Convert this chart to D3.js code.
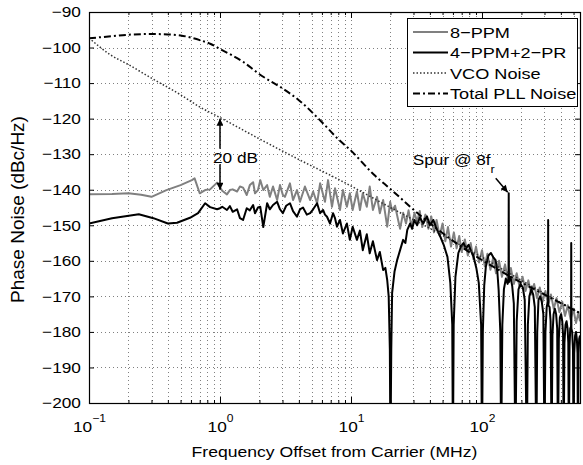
<!DOCTYPE html>
<html><head><meta charset="utf-8">
<script src="https://cdn.jsdelivr.net/npm/d3@7"></script>
<style>
body{margin:0;background:#fff;}
svg{display:block;background:#fff;}
text{font-family:"Liberation Sans",Arial,Helvetica,sans-serif;fill:#000;}
</style></head><body>
<svg id="chart" width="583" height="465"></svg>
<script>
// ---------------- data ----------------
const seriesNames = ["8\u2212PPM", "4\u2212PPM+2\u2212PR", "VCO Noise", "Total PLL Noise"];
const xMajorTicks = [0.1, 1, 10, 100];
const xTickExponents = ["\u22121", "0", "1", "2"];
const yTicks = [-200, -190, -180, -170, -160, -150, -140, -130, -120, -110, -100, -90];
const xLabel = "Frequency Offset from Carrier (MHz)";
const yLabel = "Phase Noise (dBc/Hz)";

// 8-PPM (gray)
const ppm8Freq = [0.1,0.15,0.2,0.25,0.3,0.39,0.5,0.61,0.64,0.70,0.77,0.84,0.95,1.04,1.13,1.19,1.25,1.35,1.42,1.50,1.60,1.69,1.79,1.85,1.95,2.03,2.14,2.29,2.40,2.54,2.73,2.87,3.02,3.13,3.42,3.61,3.87,4.08,4.45,4.88,5.14,5.51,5.81,6.33,6.68,7.16,7.55,8.24,8.68,9.30,9.80,10.3,11.1,11.7,12.3,13.2,13.9,14.7,15.8,16.6,17.6,18.9,19.9,20.6,21.7,22.9,
 23.7,25,26.3,27.5,29,30.5,32,33.5,35,37,39,41,43,45,47.5,50,52.5,55,58,61,64,67,70,74,78,82,86,90,95,100,105,110,116,122,128,135,142,150,158,166,175,184,194,204,215,226,238,250,263,276,290,305,320,336,353,371,390,410,430,452,475,498,522,545,560];
const ppm8Value = [-141.3,-141.2,-141.0,-141.4,-142.0,-140.1,-138.7,-137.3,-136.8,-141.0,-140.1,-139.9,-138.0,-140.3,-141.3,-140.1,-139.9,-140.5,-139.1,-139.4,-141.5,-138.7,-137.9,-141.0,-140.1,-137.3,-140.1,-138.7,-142.0,-139.1,-142.9,-138.7,-141.5,-142.0,-138.2,-142.9,-140.1,-143.4,-139.1,-142.9,-140.5,-143.8,-138.2,-143.4,-137.3,-144.8,-139.6,-145.7,-140.1,-144.8,-141.0,-145.7,-140.5,-145.7,-141.0,-144.8,-139.1,-145.7,-142.0,-146.6,-142.9,-150.4,-143.4,-146.0,-144.5,-148.5,
 -151,-146.5,-149.5,-145.8,-150.5,-146.5,-149,-146,-150.5,-147,-151,-147.5,-152,-148.5,-153,-149.5,-154.5,-150.5,-156,-152,-156.5,-153,-157.5,-154,-158.5,-155,-159.5,-156,-160.5,-157,-161.5,-158,-162.5,-159,-163.5,-160,-164.5,-161,-165.5,-162,-166.5,-163.5,-167.5,-164.5,-168.5,-165.5,-169.5,-166.5,-170.5,-167.5,-171.5,-168.5,-172.5,-169.5,-173.5,-170.5,-174.5,-171.5,-175.5,-172.5,-176.5,-173.5,-177.5,-174.5,-177];

// 4-PPM+2-PR (black)
const ppm4Freq = [0.1,0.15,0.24,0.31,0.40,0.47,0.59,0.68,0.77,0.84,0.95,1.0,1.04,1.13,1.19,1.25,1.35,1.42,1.50,1.60,1.69,1.79,1.85,1.95,2.03,2.14,2.29,2.40,2.54,2.73,2.87,3.02,3.2,3.42,3.61,3.87,4.08,4.30,4.6,4.88,5.14,5.51,5.81,6.12,6.33,6.56,6.92,7.29,7.55,7.82,8.24,8.68,9.30,9.80,10.3,11.1,11.7,12.3,13.2,13.9,14.7,15.8,16.6,17.6,18.3,18.9,19.4,19.8,20,20.3,20.6,21.5,22.5,23.7,25.0,26.0,26.9,28.3,29.3,30.5,32,33.5,35.6,38,40,42.5,45,48.2,51,54.5,57.3,59.3,60,60.8,62.7,66,69,72.2,75.5,79,83,86.4,90.5,94.5,98.5,100,101.5,104,107,112,117,122,127,131,134,138,140,
 143,147,152,157,159.5,160,160.5,165,170,175,180,184,190,197,205,212,220,224,230,238,246,253,260,264,270,278,286,294,300,305,312,318,319.5,320,320.5,328,334,340,345,352,360,368,375,380,386,393,402,410,416,420,426,434,442,450,456,460,466,472,478.5,480,481.5,488,495,500,506,514,522,530,536,540,546,552,560];
const ppm4Value = [-149.5,-148.0,-146.9,-148.0,-149.5,-149.3,-147.9,-146.6,-143.8,-144.9,-145.5,-145.2,-144.8,-145.7,-144.6,-146.2,-145.5,-148.0,-148.5,-145.2,-145.8,-144.3,-146.6,-145.0,-144.8,-150.5,-143.8,-145.5,-144.3,-143.4,-145.5,-146.6,-144.5,-143.8,-146.0,-147.6,-145.5,-145.0,-147.0,-146.6,-145.5,-143.8,-146.6,-145.7,-147.0,-147.6,-149.5,-146.6,-148.0,-150.4,-148.5,-152.3,-149.5,-154.1,-150.4,-154.1,-151.5,-157.0,-152.5,-157.9,-154.5,-159.8,-157.5,-162.6,-162,-165.4,-170,-185,-215,-185,-169.1,-163,-159.8,-157,-154.1,-155,-151.3,-149.5,-151,-148.5,-150,-147.8,-149.5,-147.5,-150,-148.5,-151,-153.3,-155.5,-158.9,-166.2,-178,-215,-178,-164.5,-157.8,-156,-155,-156.5,-155.5,-157.5,-158.9,-162,-166.2,-178,-215,-180,-167,-161.7,-158.5,-157.8,-159,-159.8,-163,-168.2,-180,-215,
 -178,-168,-165,-166.5,-165,-141,-166,-164.5,-167,-172,-215,-177,-168,-166.5,-167.5,-171,-215,-178,-170,-168,-169.5,-173,-215,-180,-171,-170,-171.5,-175,-215,-180,-173,-171.5,-172,-148.5,-172.5,-173,-177,-215,-181,-175,-173.5,-175,-179,-215,-182,-176,-175,-177,-181,-215,-183,-178,-177,-179,-183,-215,-184,-179,-178.5,-155,-179,-180,-185,-215,-186,-181,-180,-182,-186,-215,-186,-182,-181];

// VCO noise (dotted)
const vcoFreq = [0.1,0.145,0.2,0.29,0.5,0.7,1.0,2,4,8.24,20,50,100,200,560];
const vcoValue = [-97.3,-102,-104.8,-108.3,-113.3,-116.7,-119.7,-125.7,-131.5,-137.3,-145,-152.8,-159,-165.5,-174.8];

// Total PLL noise (dash-dot)
const pllFreq = [0.1,0.15,0.2,0.3,0.4,0.5,0.6,0.7,0.85,1.0,1.5,2.0,3.0,4.0,6.0,8.0,10,15,20,35,70,157,300,560];
const pllValue = [-97.4,-96.8,-96.4,-96.2,-96.3,-96.6,-97.2,-97.9,-99,-100.4,-104,-107.5,-111.5,-114.8,-121,-125.8,-129,-135.8,-139.8,-147.7,-156.1,-164,-169.5,-174.7];

// ---------------- drawing ----------------
const SX = 1.15;          // horizontal text stretch of the reference
const FS = 15;
const svg = d3.select("#chart");
const L = 89, R = 580, T = 12, B = 403;
const x = d3.scaleLog().domain([0.1, 560]).range([L, R]);
const y = d3.scaleLinear().domain([-200, -90]).range([B, T]);

svg.append("rect").attr("width", 583).attr("height", 465).attr("fill", "#fff");

const defs = svg.append("defs");
defs.append("clipPath").attr("id", "plotclip").append("rect")
  .attr("x", L).attr("y", T).attr("width", R - L).attr("height", B - T);
defs.append("marker").attr("id", "ah").attr("viewBox", "0 0 10 10")
  .attr("refX", 10).attr("refY", 5).attr("markerUnits", "userSpaceOnUse")
  .attr("markerWidth", 8).attr("markerHeight", 7).attr("orient", "auto-start-reverse")
  .append("path").attr("d", "M0,0L10,5L0,10z").attr("fill", "#000");

// grid
const xGridVals = x.ticks().filter(v => v > 0.1 && v < 560);
const grid = svg.append("g").attr("stroke", "#808080").attr("stroke-width", 1).attr("stroke-dasharray", "1,3");
grid.selectAll("line.gx").data(xGridVals).join("line")
  .attr("x1", d => Math.round(x(d)) + 0.5).attr("x2", d => Math.round(x(d)) + 0.5)
  .attr("y1", T).attr("y2", B);
grid.selectAll("line.gy").data(yTicks.filter(v => v > -200 && v < -90)).join("line")
  .attr("y1", d => Math.round(y(d)) + 0.5).attr("y2", d => Math.round(y(d)) + 0.5)
  .attr("x1", L).attr("x2", R);

// series
const plot = svg.append("g").attr("clip-path", "url(#plotclip)");
const zip = (fs, vs) => fs.map((f, i) => [f, vs[i]]);
const lineLin = d3.line().x(d => x(d[0])).y(d => y(d[1]));
const lineSmooth = d3.line().x(d => x(d[0])).y(d => y(d[1])).curve(d3.curveMonotoneX);

plot.append("path").datum(zip(ppm8Freq, ppm8Value)).attr("d", lineLin)
  .attr("fill", "none").attr("stroke", "#808080").attr("stroke-width", 2).attr("stroke-linejoin", "round");
plot.append("path").datum(zip(ppm4Freq, ppm4Value)).attr("d", lineLin)
  .attr("fill", "none").attr("stroke", "#000").attr("stroke-width", 2).attr("stroke-linejoin", "round");
plot.append("path").datum(zip(vcoFreq, vcoValue)).attr("d", lineSmooth)
  .attr("fill", "none").attr("stroke", "#333").attr("stroke-width", 1.5).attr("stroke-dasharray", "1.5,2");
plot.append("path").datum(zip(pllFreq, pllValue)).attr("d", lineSmooth)
  .attr("fill", "none").attr("stroke", "#000").attr("stroke-width", 2).attr("stroke-dasharray", "7,3,2,3");

// axes
const xMinor = x.ticks().filter(v => xMajorTicks.indexOf(v) < 0);
function clean(g) { g.select(".domain").remove(); g.selectAll(".tick line").attr("stroke", "#000"); }
svg.append("g").attr("transform", `translate(0,${B})`)
  .call(d3.axisBottom(x).tickValues(xMinor).tickSize(-3).tickFormat("")).call(clean);
svg.append("g").attr("transform", `translate(0,${T})`)
  .call(d3.axisTop(x).tickValues(xMinor).tickSize(-3).tickFormat("")).call(clean);
svg.append("g").attr("transform", `translate(0,${T})`)
  .call(d3.axisTop(x).tickValues(xMajorTicks).tickSize(-6).tickFormat("")).call(clean);
svg.append("g").attr("transform", `translate(${R},0)`)
  .call(d3.axisRight(y).tickValues(yTicks).tickSize(-5).tickFormat("")).call(clean);

const xAx = svg.append("g").attr("transform", `translate(0,${B})`)
  .call(d3.axisBottom(x).tickValues(xMajorTicks).tickSize(-6).tickFormat(() => "")).call(clean);
xAx.selectAll(".tick text").each(function(d, i) {
  const t = d3.select(this);
  t.attr("y", 29).attr("dy", null).attr("x", 0)
   .attr("transform", `scale(${SX},1)`).attr("text-anchor", "middle")
   .style("font-size", FS + "px").attr("font-family", null).attr("fill", "#000");
  t.text("");
  t.append("tspan").text("10");
  t.append("tspan").attr("dy", -10).style("font-size", "10.5px").text(xTickExponents[i]);
});

const yAx = svg.append("g").attr("transform", `translate(${L},0)`)
  .call(d3.axisLeft(y).tickValues(yTicks).tickSize(-5).tickPadding(7)).call(clean);
yAx.selectAll(".tick text").attr("transform", `scale(${SX},1)`)
  .attr("font-family", null).style("font-size", FS + "px").attr("fill", "#000");
yAx.attr("font-family", null).attr("font-size", null);
xAx.attr("font-family", null).attr("font-size", null);

// frame
svg.append("rect").attr("x", L + 0.5).attr("y", T + 0.5).attr("width", R - L).attr("height", B - T)
  .attr("fill", "none").attr("stroke", "#000").attr("stroke-width", 1.2);

// text helper
function addText(str, px, py, anchor, size) {
  return svg.append("text").attr("transform", `translate(${px},${py}) scale(${SX},1)`)
    .attr("text-anchor", anchor || "start").style("font-size", (size || FS) + "px").text(str);
}

// axis labels
addText(xLabel, (L + R) / 2, 457, "middle", 15.3);
svg.append("text").attr("transform", `translate(24,${(T + B) / 2 + 2}) rotate(-90)`)
  .attr("text-anchor", "middle").style("font-size", "19px").text(yLabel);

// 20 dB annotation
const ax1 = x(1);
svg.append("line").attr("x1", ax1).attr("x2", ax1).attr("y1", y(-128.5)).attr("y2", y(-120))
  .attr("stroke", "#000").attr("stroke-width", 1.5).attr("marker-end", "url(#ah)");
svg.append("line").attr("x1", ax1).attr("x2", ax1).attr("y1", y(-132.8)).attr("y2", y(-140))
  .attr("stroke", "#000").attr("stroke-width", 1.5).attr("marker-end", "url(#ah)");
addText("20 dB", ax1 - 7, y(-132.5));

// Spur annotation
const sx = x(160), sy = y(-141);
const spur = addText("Spur @ 8f", sx - 96, sy - 28);
spur.append("tspan").attr("dy", 8).style("font-size", "11px").text("r");
svg.append("line").attr("x1", sx - 13).attr("y1", sy - 15).attr("x2", sx - 1).attr("y2", sy - 1)
  .attr("stroke", "#000").attr("stroke-width", 1.5).attr("marker-end", "url(#ah)");

// legend
const lg = svg.append("g");
lg.append("rect").attr("x", 407.5).attr("y", 18.5).attr("width", 170).attr("height", 88)
  .attr("fill", "#fff").attr("stroke", "#000").attr("stroke-width", 1);
const legStyles = [
  {stroke: "#808080", w: 2, dash: null},
  {stroke: "#000", w: 2, dash: null},
  {stroke: "#333", w: 1.5, dash: "1.5,2"},
  {stroke: "#000", w: 2, dash: "7,3,2,3"}
];
seriesNames.forEach((name, i) => {
  const cy = 32 + i * 20.5;
  const st = legStyles[i];
  lg.append("line").attr("x1", 413).attr("x2", 448).attr("y1", cy).attr("y2", cy)
    .attr("stroke", st.stroke).attr("stroke-width", st.w).attr("stroke-dasharray", st.dash);
  lg.append("text").attr("transform", `translate(450,${cy + 5.8}) scale(1.17,1)`)
    .style("font-size", "15.5px").text(name);
});
</script>
</body></html>
